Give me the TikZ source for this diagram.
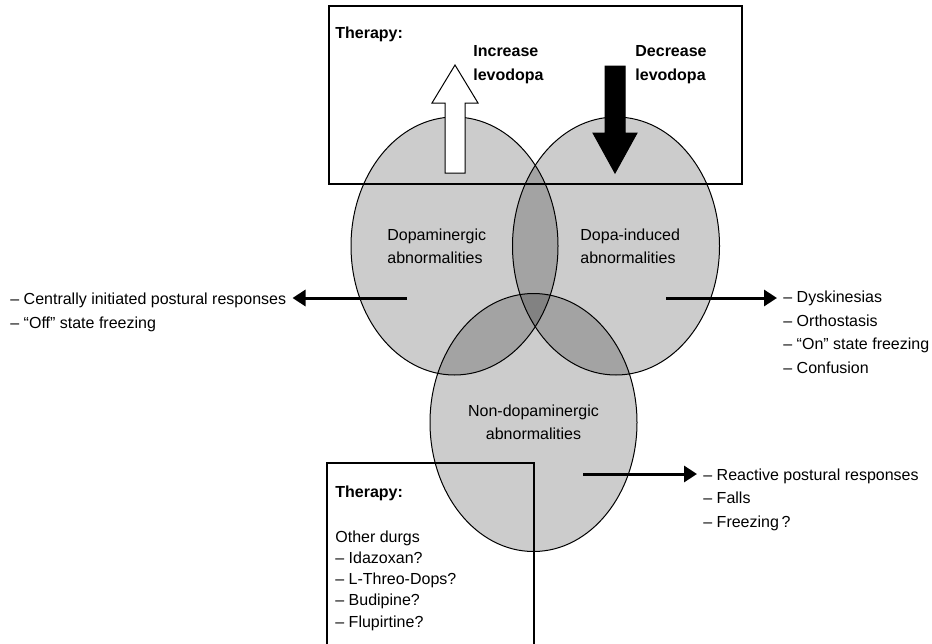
\documentclass[tikz,border=0pt]{standalone}
\usepackage{fontspec}
\setmainfont{Liberation Sans}
\usetikzlibrary{shapes.geometric, arrows.meta}
\tikzstyle{venn} = [
    ellipse,
    minimum width=103.5pt,
    minimum height=129pt,
    inner sep=0pt,
    draw=black,
    line width=0.5pt,
    fill=black,
    fill opacity=0.2
]
\tikzstyle{venntext} = [
    font=\fontsize{8}{11.5}\selectfont,
    align=left,
    inner sep=0pt
]
\tikzstyle{listtext} = [
    font=\fontsize{8}{11.7}\selectfont,
    align=left,
    inner ysep=0pt,
    inner xsep=3pt
]
\tikzstyle{heading} = [
    font=\fontsize{8}{12}\selectfont\bfseries,
    align=left,
    inner sep=0pt
]
\tikzstyle{frame} = [draw=black, line width=0.6pt]
\tikzstyle{blockarrow} = [draw=black, line width=0.5pt, line join=miter]
\tikzstyle{arrow} = [line width=1.5pt, -{Triangle[length=6.5pt,width=8pt]}]

\begin{document}
\begin{tikzpicture}[x=0.5pt, y=-0.5pt]
\useasboundingbox (0,0) rectangle (932,643);

% the three circles
\node (dopa) [venn] at (454.5,246) {};
\node (indu) [venn] at (616,246) {};
\node (nond) [venn] at (533.5,422.5) {};

% therapy boxes
\draw [frame] (329,6) rectangle (742,184);
\draw [frame] (327,650) -- (327,463) -- (534,463) -- (534,650);

% increase / decrease levodopa
\draw [blockarrow, fill=white] (445,173) -- (445,103) -- (432,103) -- (455,65)
    -- (478,103) -- (465,103) -- (465,173) -- cycle;
\draw [blockarrow, fill=black] (605,66) -- (605,133) -- (593,133) -- (615,173)
    -- (637,133) -- (625,133) -- (625,66) -- cycle;

\node (toptherapy) [heading, anchor=west] at (335,34) {Therapy:};
\node (increase) [heading, anchor=west] at (473,65) {Increase\\levodopa};
\node (decrease) [heading, anchor=west] at (635,65) {Decrease\\levodopa};

\node (dopatext) [venntext, anchor=west] at (387,246) {Dopaminergic\\abnormalities};
\node (indutext) [venntext, anchor=west] at (580,246) {Dopa-induced\\abnormalities};
\node (nondtext) [venntext, align=center] at (533.5,422) {Non-dopaminergic\\abnormalities};

% symptom lists (base = baseline of the last line)
\coordinate (dopaout) at (407,298);
\node (dopalist) [listtext, anchor=base west] at (4,328)
{– Centrally initiated postural responses\\– “Off” state freezing};

\coordinate (induout) at (666,298);
\node (indulist) [listtext, anchor=base west] at (777,373)
{– Dyskinesias\\– Orthostasis\\– “On” state freezing\\– Confusion};

\coordinate (nondout) at (583,474);
\node (nondlist) [listtext, anchor=base west] at (697,527)
{– Reactive postural responses\\– Falls\\– Freezing\,?};

\draw [arrow] (dopaout) -- (dopaout -| dopalist.east);
\draw [arrow] (induout) -- (induout -| indulist.west);
\draw [arrow] (nondout) -- (nondout -| nondlist.west);

% other drugs
\node (lowtherapy) [heading, anchor=west] at (335,493) {Therapy:};
\node (drugs) [listtext, inner xsep=0pt, anchor=base west,
    font=\fontsize{8}{10.6}\selectfont] at (335,627)
{Other durgs\\– Idazoxan?\\– L-Threo-Dops?\\– Budipine?\\– Flupirtine?};

\end{tikzpicture}
\end{document}
